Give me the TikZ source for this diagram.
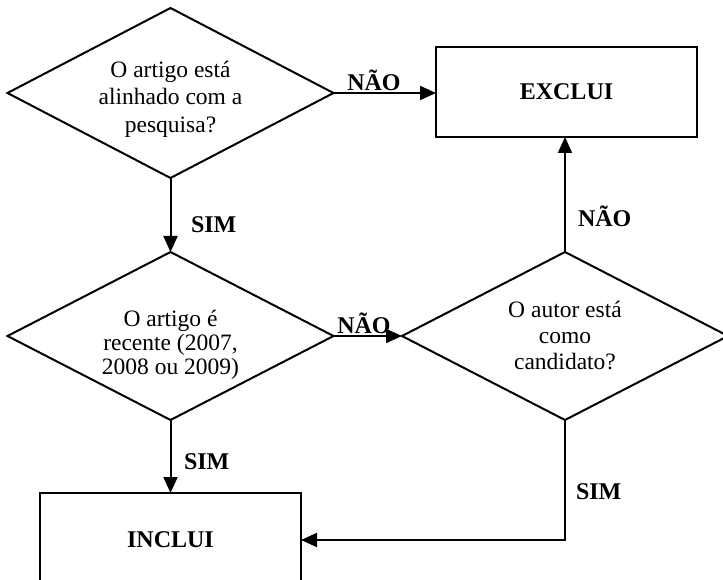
\documentclass[tikz,border=0pt]{standalone}
\usepackage{fontspec}
\setmainfont{Liberation Serif}
\usetikzlibrary{shapes.geometric,arrows.meta}
\begin{document}
\begin{tikzpicture}[x=1pt,y=-1pt,
  line width=2pt,
  decision/.style={diamond, draw, inner sep=0pt, outer sep=0pt,
    minimum width=326pt, minimum height=168pt},
  question/.style={align=center, inner sep=0pt},
  outcome/.style={rectangle, draw, inner sep=0pt, outer sep=0pt,
    minimum width=261pt, minimum height=90pt,
    font=\fontsize{24}{28}\selectfont\bfseries},
  answer/.style={font=\fontsize{24}{28}\selectfont\bfseries, inner sep=0pt},
  flow/.style={-{Triangle[length=16pt,width=14pt]}},
]
\useasboundingbox (0,0) rectangle (723,580);

% decisions
\node[decision, minimum height=170pt] (d1) at (170.5,93) {};
\node[decision] (d2) at (170.5,336) {};
\node[decision] (d3) at (565,336) {};

\node[question, font=\fontsize{23.5}{27.5}\selectfont] (q1) at (170.5,99)
  {O artigo está\\alinhado com a\\pesquisa?};
\node[question, font=\fontsize{23.5}{24}\selectfont] (q2) at (170.5,345)
  {O artigo é\\recente (2007,\\2008 ou 2009)};
\node[question, font=\fontsize{23.5}{26}\selectfont] (q3) at (565,335)
  {O autor está\\como\\candidato?};

% outcomes
\node[outcome] (ex) at (566.5,92) {EXCLUI};
\node[outcome, minimum height=94pt] (in) at (170.5,540) {INCLUI};

% connectors
\draw[flow] (d1.east) -- (d1.east -| ex.west);
\draw[flow] (d1.south) -- (d2.north);
\draw[flow] (d2.east) -- (d3.west);
\draw[flow] (d3.north) -- (d3.north |- ex.south);
\draw[flow] (d2.south) -- (d2.south |- in.north);
\draw[flow] (d3.south) |- (in.east);

% answers on the connectors
\node[answer, anchor=south] (a1) at (374,92) {NÃO};
\node[answer, anchor=west] (a2) at (190,225) {SIM};
\node[answer, anchor=south] (a3) at (364,335) {NÃO};
\node[answer, anchor=west] (a4) at (577,216) {NÃO};
\node[answer, anchor=west] (a5) at (183,462) {SIM};
\node[answer, anchor=west] (a6) at (575,492) {SIM};
\end{tikzpicture}
\end{document}
